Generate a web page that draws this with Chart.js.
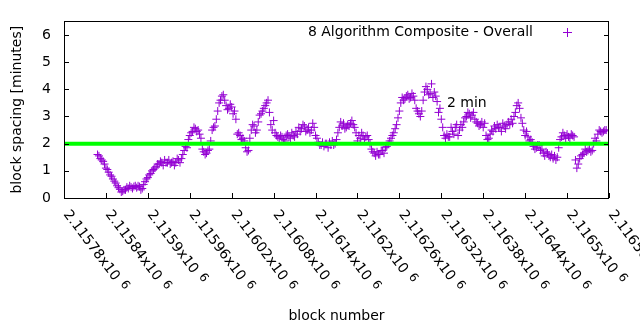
<!DOCTYPE html>
<html>
    <head>
        <meta charset="utf-8">
        <title>8 Algorithm Composite - block spacing</title>
        <script src="https://cdn.jsdelivr.net/npm/chart.js@4.4.1/dist/chart.umd.min.js"></script>
        <style>
            body { margin: 0; background: #fff; }
        </style>
    </head>
    <body>
        <canvas id="chart" width="640" height="330"></canvas>
        <script>
        // every 2nd block (minutes)
        const firstBlock = 2115828;
        const blockStep = 2;
        const spacing = [
            1.6, 1.55, 1.45, 1.4, 1.35, 1.25, 1.1, 1.05, 0.95, 0.85,
            0.8, 0.7, 0.62, 0.55, 0.45, 0.38, 0.32, 0.22, 0.25, 0.3,
            0.3, 0.4, 0.35, 0.45, 0.4, 0.35, 0.42, 0.45, 0.38, 0.45,
            0.42, 0.3, 0.35, 0.5, 0.6, 0.7, 0.75, 0.85, 0.9, 1.0,
            1.05, 1.1, 1.15, 1.25, 1.25, 1.35, 1.3, 1.2, 1.4, 1.3,
            1.3, 1.4, 1.25, 1.3, 1.35, 1.2, 1.3, 1.45, 1.4, 1.3,
            1.45, 1.6, 1.75, 1.9, 1.85, 2.15, 2.3, 2.4, 2.45, 2.6,
            2.55, 2.45, 2.5, 2.35, 2.2, 1.8, 1.7, 1.6, 1.65, 1.75,
            1.8, 2.1, 2.5, 2.6, 2.65, 2.9, 3.2, 3.5, 3.6, 3.75,
            3.8, 3.6, 3.4, 3.25, 3.3, 3.45, 3.35, 3.1, 3.2, 2.9,
            2.35, 2.4, 2.3, 2.15, 2.2, 2.1, 1.85, 1.7, 1.75, 2.2,
            2.5, 2.7, 2.65, 2.4, 2.5, 2.8, 3.05, 3.1, 3.2, 3.3,
            3.4, 3.5, 3.6, 3.15, 2.7, 2.5, 2.85, 2.4, 2.3, 2.25,
            2.2, 2.3, 2.25, 2.15, 2.1, 2.3, 2.35, 2.25, 2.2, 2.4,
            2.3, 2.25, 2.45, 2.35, 2.6, 2.45, 2.55, 2.7, 2.65, 2.45,
            2.5, 2.6, 2.4, 2.5, 2.75, 2.6, 2.3, 2.2, 2.05, 1.95,
            1.95, 2.05, 1.9, 2.0, 2.0, 1.85, 2.05, 1.95, 2.1, 1.95,
            2.0, 2.15, 2.4, 2.6, 2.8, 2.65, 2.75, 2.55, 2.6, 2.7,
            2.65, 2.75, 2.85, 2.7, 2.6, 2.4, 2.1, 2.3, 2.2, 2.4,
            2.3, 2.15, 2.25, 2.3, 2.15, 2.0, 1.8, 1.7, 1.65, 1.55,
            1.7, 1.6, 1.6, 1.75, 1.75, 1.65, 1.85, 1.9, 2.0, 2.1,
            2.2, 2.3, 2.4, 2.55, 2.7, 2.95, 3.2, 3.5, 3.7, 3.6,
            3.65, 3.75, 3.8, 3.65, 3.7, 3.85, 3.75, 3.6, 3.3, 3.2,
            3.1, 3.0, 3.2, 3.6, 3.9, 4.1, 4.0, 3.8, 3.85, 4.2,
            3.7, 3.9, 3.75, 3.55, 3.15, 3.3, 2.9, 2.6, 2.3, 2.2,
            2.35, 2.25, 2.25, 2.6, 2.45, 2.35, 2.6, 2.7, 2.3, 2.5,
            2.7, 2.6, 2.8, 2.95, 3.0, 3.15, 3.1, 2.95, 3.05, 3.15,
            2.9, 2.8, 2.75, 2.65, 2.7, 2.8, 2.6, 2.75, 2.3, 2.15,
            2.2, 2.35, 2.5, 2.45, 2.65, 2.55, 2.7, 2.6, 2.6, 2.45,
            2.75, 2.65, 2.55, 2.7, 2.8, 2.7, 2.9, 2.75, 3.0, 3.15,
            3.4, 3.5, 3.3, 2.95, 2.75, 2.5, 2.3, 2.45, 2.25, 2.1,
            2.15, 2.05, 1.9, 1.8, 1.85, 1.95, 1.95, 1.75, 1.8, 1.65,
            1.55, 1.7, 1.65, 1.55, 1.5, 1.6, 1.45, 1.55, 1.4, 1.5,
            1.85, 2.15, 2.25, 2.4, 2.3, 2.2, 2.35, 2.25, 2.2, 2.35,
            2.3, 2.25, 1.4, 1.1, 1.25, 1.45, 1.55, 1.6, 1.65, 1.8,
            1.7, 1.75, 1.8, 1.7, 1.75, 2.0, 2.2, 2.1, 2.35, 2.5,
            2.45, 2.4, 2.45, 2.5, 2.5
        ];
        const xTicks = [2115780, 2115840, 2115900, 2115960, 2116020, 2116080, 2116140,
                        2116200, 2116260, 2116320, 2116380, 2116440, 2116500, 2116560];
        const xTickLabels = ['2.11578', '2.11584', '2.1159', '2.11596', '2.11602', '2.11608', '2.11614',
                             '2.1162', '2.11626', '2.11632', '2.11638', '2.11644', '2.1165', '2.11656'];
        const yTicks = [0, 1, 2, 3, 4, 5, 6];
        const targetMinutes = 2;
        const seriesName = '8 Algorithm Composite - Overall';

        const FONT = '"DejaVu Sans", sans-serif';
        const PURPLE = '#9400d3';

        const points = spacing.map((v, i) => ({x: firstBlock + i * blockStep, y: v}));

        const gnuplotFrame = {
            id: 'gnuplotFrame',
            afterDatasetsDraw(chart) {
                const ctx = chart.ctx;
                const a = chart.chartArea;
                const xs = chart.scales.x, ys = chart.scales.y;
                ctx.save();
                ctx.strokeStyle = '#000';
                ctx.lineWidth = 1;
                ctx.strokeRect(Math.round(a.left) + 0.5, Math.round(a.top) + 0.5,
                    Math.round(a.right - a.left) - 1, Math.round(a.bottom - a.top));
                // tics
                ctx.beginPath();
                yTicks.forEach(v => {
                    const py = Math.round(ys.getPixelForValue(v)) + 0.5;
                    ctx.moveTo(a.left, py); ctx.lineTo(a.left + 5, py);
                    ctx.moveTo(a.right, py); ctx.lineTo(a.right - 5, py);
                });
                xTicks.forEach(v => {
                    const px = Math.round(xs.getPixelForValue(v)) + 0.5;
                    ctx.moveTo(px, a.bottom); ctx.lineTo(px, a.bottom - 5);
                });
                ctx.stroke();

                // rotated x labels "2.11578x10^6"
                ctx.fillStyle = '#000';
                ctx.textAlign = 'left';
                ctx.textBaseline = 'middle';
                xTicks.forEach((v, i) => {
                    const px = xs.getPixelForValue(v);
                    ctx.save();
                    ctx.translate(px + 2, a.bottom + 14);
                    ctx.rotate(53 * Math.PI / 180);
                    ctx.font = '14px ' + FONT;
                    const txt = xTickLabels[i] + 'x10';
                    ctx.fillText(txt, 0, 0);
                    const w = ctx.measureText(txt).width;
                    ctx.font = '12px ' + FONT;
                    ctx.fillText('6', w + 6, -3);
                    ctx.restore();
                });

                // axis titles
                ctx.font = '14px ' + FONT;
                ctx.textAlign = 'center';
                ctx.textBaseline = 'middle';
                ctx.fillText('block number', (a.left + a.right) / 2, 316);
                ctx.save();
                ctx.translate(17, (a.top + a.bottom) / 2);
                ctx.rotate(-Math.PI / 2);
                ctx.fillText('block spacing [minutes]', 0, 0);
                ctx.restore();

                // key
                ctx.textAlign = 'right';
                ctx.fillText(seriesName, 533, 32);
                ctx.strokeStyle = PURPLE;
                ctx.beginPath();
                ctx.moveTo(563, 32.5); ctx.lineTo(572, 32.5);
                ctx.moveTo(567.5, 28); ctx.lineTo(567.5, 37);
                ctx.stroke();

                // label at graph position
                ctx.textAlign = 'left';
                ctx.fillStyle = '#000';
                ctx.fillText('2 min', xs.getPixelForValue(2116328), ys.getPixelForValue(3.5));
                ctx.restore();
            }
        };

        new Chart(document.getElementById('chart'), {
            type: 'scatter',
            data: {
                datasets: [{
                    type: 'line',
                    data: [{x: xTicks[0], y: targetMinutes}, {x: xTicks[xTicks.length - 1], y: targetMinutes}],
                    borderColor: '#00ff00',
                    borderWidth: 4,
                    pointRadius: 0
                }, {
                    label: seriesName,
                    data: points,
                    pointStyle: 'cross',
                    pointRadius: 4,
                    borderWidth: 1,
                    borderColor: PURPLE,
                    backgroundColor: PURPLE
                }]
            },
            options: {
                responsive: false,
                animation: false,
                layout: { padding: { top: 19, right: 31, left: 0, bottom: 0 } },
                plugins: { legend: { display: false }, tooltip: { enabled: false } },
                scales: {
                    x: {
                        type: 'linear',
                        min: xTicks[0],
                        max: xTicks[xTicks.length - 1],
                        grid: { display: false },
                        border: { display: false },
                        ticks: { display: false },
                        afterFit: s => { s.height = 132; }
                    },
                    y: {
                        min: 0,
                        max: 6.5,
                        grid: { display: false, drawTicks: false },
                        border: { display: false },
                        afterBuildTicks: s => { s.ticks = yTicks.map(v => ({value: v})); },
                        ticks: {
                            color: '#000',
                            padding: 13,
                            font: { family: FONT, size: 14 }
                        },
                        afterFit: s => { s.width = 64; }
                    }
                }
            },
            plugins: [gnuplotFrame]
        });
        </script>
    </body>
</html>
